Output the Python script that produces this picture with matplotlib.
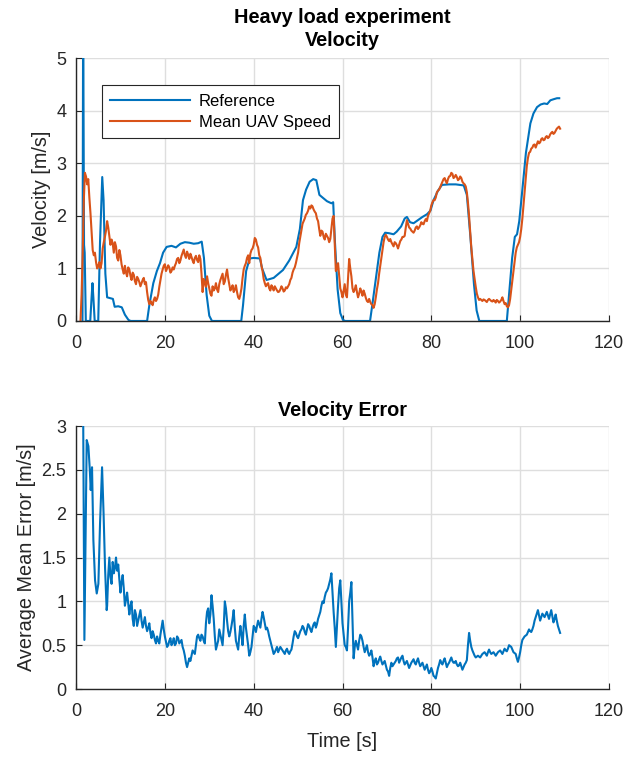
import numpy as np
import matplotlib
matplotlib.use("Agg")
import matplotlib.pyplot as plt

# ---------------------------------------------------------------------------
# data
# reference velocity (smooth curve), irregular samples
ref_t = [1.45, 1.6, 1.8, 1.95, 2.2, 3.2, 3.5, 3.7, 3.9, 4.2,
         5.0, 5.4, 5.9, 6.2, 6.6, 7.0, 8.3, 8.7, 9.5, 10.3,
         11.0, 11.8, 12.3, 16.0, 16.5, 17.4, 18.2, 18.9, 19.6, 20.4,
         21.5, 22.5, 23.5, 24.5, 25.5, 26.5, 27.5, 28.3, 28.8, 29.4,
         30.0, 30.6, 37.2, 37.6, 38.3, 39.1, 40.0, 41.4, 41.9, 42.9,
         44.5, 46.6, 48.0, 49.6, 50.4, 51.1, 51.8, 52.6, 53.4, 54.1,
         54.8, 55.5, 56.5, 57.5, 57.9, 58.3, 58.9, 59.5, 60.1, 60.6,
         66.2, 66.7, 67.5, 68.3, 69.0, 69.6, 70.5, 71.5, 72.2, 73.2,
         74.0, 74.5, 75.2, 76.0, 77.0, 78.0, 79.0, 79.8, 80.5, 81.5,
         82.4, 84.0, 85.5, 87.3, 88.0, 88.8, 89.6, 90.2, 90.8, 97.0,
         97.5, 98.2, 98.8, 99.3, 99.8, 100.5, 101.3, 102.3, 103.0, 103.8,
         104.6, 105.4, 106.1, 106.8, 107.5, 108.3, 108.8]
ref_v = [0.0, 6.0, 1.45, 1.3, 0.0, 0.0, 0.45, 0.72, 0.45, 0.0,
         0.0, 1.5, 2.74, 2.3, 0.9, 0.45, 0.42, 0.27, 0.28, 0.26,
         0.12, 0.02, 0.0, 0.0, 0.3, 0.72, 0.95, 1.1, 1.3, 1.41,
         1.43, 1.4, 1.47, 1.5, 1.49, 1.47, 1.48, 1.51, 1.2, 0.5,
         0.1, 0.0, 0.0, 0.3, 0.95, 1.19, 1.2, 1.19, 1.0, 0.78,
         0.82, 0.97, 1.15, 1.41, 1.75, 2.3, 2.5, 2.65, 2.7, 2.68,
         2.4, 2.35, 2.28, 2.24, 2.26, 1.5, 0.6, 0.15, 0.02, 0.0,
         0.0, 0.3, 0.8, 1.3, 1.6, 1.68, 1.67, 1.65, 1.7, 1.8,
         1.95, 1.98, 1.88, 1.86, 1.92, 1.98, 2.03, 2.1, 2.3, 2.48,
         2.59, 2.6, 2.6, 2.58, 2.4, 1.6, 0.7, 0.2, 0.0, 0.0,
         0.5, 1.2, 1.6, 1.65, 1.9, 2.5, 3.2, 3.76, 3.95, 4.07,
         4.12, 4.14, 4.13, 4.2, 4.22, 4.24, 4.24]

# mean UAV speed, sampled every 0.5 s from t = 1.0 s ...
uav_t0, uav_dt = 1.0, 0.5
uav_v = [0.0, 1.3, 2.82, 2.6, 2.35, 1.7, 1.25, 1.12, 1.05, 1.0,
         1.38, 1.6, 1.9, 1.62, 1.55, 1.3, 1.42, 1.15, 1.25, 0.98,
         1.05, 0.85, 0.98, 0.78, 0.88, 0.7, 0.8, 0.66, 0.78, 0.7,
         0.55, 0.32, 0.35, 0.4, 0.38, 0.5, 0.78, 0.98, 1.08, 1.0,
         1.02, 0.95, 0.98, 1.1, 1.2, 1.15, 1.3, 1.25, 1.32, 1.18,
         1.22, 1.1, 1.24, 1.12, 1.18, 0.55, 0.72, 0.85, 0.62, 0.48,
         0.58, 0.72, 0.55, 0.78, 0.9, 0.75, 0.98, 0.7, 0.62, 0.55,
         0.68, 0.45, 0.5, 0.82, 1.05, 1.2, 1.1, 1.35, 1.45, 1.55,
         1.4, 1.2, 0.95, 0.72, 0.7, 0.62, 0.68, 0.58, 0.62, 0.55,
         0.6, 0.62, 0.58, 0.62, 0.7, 0.82, 0.98, 1.1, 1.3, 1.6,
         1.85, 1.95, 2.05, 2.18, 2.2, 2.12, 2.05, 1.9, 1.62, 1.7,
         1.55, 1.62, 1.5, 1.75, 2.0, 0.95, 1.1, 0.62, 0.45, 0.7,
         0.45, 1.18, 0.85, 0.55, 0.68, 0.45, 0.62, 0.48, 0.52, 0.38,
         0.42, 0.32, 0.25, 0.45, 0.72, 1.05, 1.35, 1.6, 1.6, 1.52,
         1.5, 1.42, 1.48, 1.38, 1.52, 1.6, 1.62, 1.92, 1.78, 1.72,
         1.68, 1.78, 1.75, 1.82, 1.85, 1.9, 1.9, 2.05, 2.2, 2.3,
         2.35, 2.48, 2.55, 2.65, 2.72, 2.62, 2.75, 2.82, 2.72, 2.78,
         2.68, 2.75, 2.65, 2.6, 2.45, 2.0, 1.4, 0.95, 0.65, 0.45,
         0.42, 0.38, 0.4, 0.36, 0.42, 0.38, 0.4, 0.35, 0.38, 0.37,
         0.45, 0.32, 0.28, 0.3, 0.6, 0.95, 1.3, 1.45, 1.6, 1.95,
         2.45, 2.95, 3.2, 3.28, 3.35, 3.3, 3.42, 3.4, 3.48, 3.45,
         3.52, 3.5, 3.58, 3.56, 3.62, 3.68, 3.66]
# ... and the samples in between (t = 1.25, 1.75, ...)
uav_mid = [0.5, 2.3, 2.75, 2.7, 2.05, 1.35, 1.3, 1.0, 1.12, 1.1,
           1.5, 1.72, 1.78, 1.45, 1.48, 1.5, 1.2, 1.35, 1.08, 0.9,
           0.92, 1.02, 0.86, 0.92, 0.76, 0.84, 0.74, 0.72, 0.82, 0.74,
           0.4, 0.38, 0.3, 0.45, 0.42, 0.65, 0.9, 1.05, 0.95, 1.06,
           0.92, 1.02, 1.05, 1.18, 1.1, 1.24, 1.36, 1.2, 1.26, 1.28,
           1.15, 1.2, 1.16, 1.25, 0.9, 0.8, 0.65, 0.72, 0.52, 0.66,
           0.62, 0.6, 0.7, 0.84, 0.7, 0.88, 0.82, 0.58, 0.68, 0.6,
           0.55, 0.42, 0.62, 0.98, 1.1, 1.25, 1.28, 1.38, 1.58, 1.45,
           1.25, 1.05, 0.8, 0.66, 0.72, 0.58, 0.64, 0.66, 0.58, 0.56,
           0.66, 0.56, 0.64, 0.66, 0.78, 0.92, 1.02, 1.2, 1.48, 1.72,
           1.9, 2.02, 2.1, 2.14, 2.18, 2.08, 1.95, 1.75, 1.72, 1.6,
           1.66, 1.58, 1.56, 1.95, 1.5, 1.0, 0.85, 0.55, 0.58, 0.5,
           0.8, 1.0, 0.62, 0.6, 0.55, 0.52, 0.56, 0.58, 0.44, 0.36,
           0.36, 0.3, 0.32, 0.6, 0.9, 1.2, 1.5, 1.64, 1.55, 1.56,
           1.46, 1.5, 1.44, 1.45, 1.55, 1.6, 1.78, 1.85, 1.76, 1.7,
           1.72, 1.8, 1.78, 1.88, 1.84, 1.94, 2.0, 2.1, 2.26, 2.3,
           2.45, 2.5, 2.6, 2.7, 2.66, 2.7, 2.76, 2.8, 2.74, 2.74,
           2.7, 2.72, 2.62, 2.56, 2.25, 1.7, 1.18, 0.8, 0.52, 0.4,
           0.4, 0.41, 0.38, 0.4, 0.4, 0.37, 0.38, 0.4, 0.35, 0.4,
           0.38, 0.34, 0.26, 0.42, 0.78, 1.12, 1.4, 1.5, 1.75, 2.2,
           2.7, 3.1, 3.22, 3.3, 3.36, 3.36, 3.38, 3.46, 3.44, 3.5,
           3.48, 3.55, 3.6, 3.58, 3.66, 3.7]

# velocity error: first seconds at irregular times, then every 0.5 s from 7.0 s
err_head_t = [1.6, 1.7, 1.88, 2.4, 2.78, 3.1, 3.3, 3.6, 3.9, 4.28,
              4.66, 5.03, 5.41, 5.86, 6.2, 6.54, 6.9]
err_head_v = [3.2, 2.2, 0.56, 2.84, 2.77, 2.5, 2.27, 2.53, 1.7, 1.24,
              1.09, 1.2, 1.9, 2.53, 2.0, 1.37, 0.9]
err_t0, err_dt = 7.0, 0.5
err_v = [0.95, 1.5, 1.2, 1.32, 1.5, 1.42, 1.1, 1.3, 0.95, 1.1,
         0.85, 1.0, 0.72, 0.85, 0.78, 0.9, 0.7, 0.82, 0.66, 0.75,
         0.58, 0.62, 0.52, 0.55, 0.62, 0.78, 0.6, 0.48, 0.55, 0.5,
         0.58, 0.52, 0.58, 0.54, 0.48, 0.38, 0.25, 0.35, 0.38, 0.42,
         0.5, 0.62, 0.55, 0.6, 0.52, 0.88, 0.75, 1.07, 0.8, 0.45,
         0.55, 0.62, 0.5, 1.0, 0.78, 0.6, 0.72, 0.9, 0.55, 0.45,
         0.72, 0.5, 0.85, 0.6, 0.38, 0.48, 0.72, 0.65, 0.78, 0.7,
         0.88, 0.75, 0.7, 0.6, 0.5, 0.4, 0.45, 0.42, 0.48, 0.44,
         0.4, 0.46, 0.4, 0.45, 0.6, 0.64, 0.58, 0.66, 0.72, 0.65,
         0.68, 0.72, 0.65, 0.74, 0.7, 0.8, 0.88, 1.0, 1.05, 1.12,
         1.2, 1.32, 0.88, 0.48, 0.95, 1.24, 0.75, 0.5, 0.44, 1.0,
         1.22, 0.35, 0.55, 0.45, 0.62, 0.55, 0.42, 0.5, 0.38, 0.44,
         0.26, 0.35, 0.3, 0.37, 0.28, 0.32, 0.22, 0.15, 0.3, 0.28,
         0.32, 0.36, 0.33, 0.38, 0.28, 0.32, 0.24, 0.3, 0.34, 0.28,
         0.35, 0.26, 0.3, 0.22, 0.28, 0.18, 0.24, 0.15, 0.12, 0.24,
         0.33, 0.28, 0.35, 0.25, 0.3, 0.36, 0.3, 0.32, 0.26, 0.3,
         0.22, 0.28, 0.33, 0.64, 0.48, 0.41, 0.36, 0.38, 0.36, 0.4,
         0.42, 0.38, 0.45, 0.4, 0.42, 0.38, 0.42, 0.44, 0.4, 0.46,
         0.43, 0.5, 0.48, 0.42, 0.4, 0.31, 0.42, 0.56, 0.6, 0.62,
         0.68, 0.65, 0.72, 0.82, 0.9, 0.78, 0.86, 0.82, 0.88, 0.8,
         0.9, 0.76, 0.85, 0.72, 0.64]
# in-between error samples (t = 7.25, 7.75, ...)
err_mid = [1.3, 1.28, 1.45, 1.38, 1.35, 1.25, 1.22, 1.15, 1.02, 0.98,
           0.95, 0.8, 0.9, 0.72, 0.84, 0.78, 0.76, 0.72, 0.7, 0.64,
           0.66, 0.56, 0.6, 0.52, 0.7, 0.68, 0.54, 0.5, 0.58, 0.53,
           0.5, 0.6, 0.52, 0.56, 0.44, 0.3, 0.3, 0.32, 0.44, 0.4,
           0.6, 0.58, 0.62, 0.55, 0.75, 0.92, 0.85, 0.95, 0.6, 0.5,
           0.68, 0.56, 0.7, 0.92, 0.66, 0.65, 0.8, 0.7, 0.5, 0.6,
           0.62, 0.72, 0.7, 0.5, 0.42, 0.6, 0.7, 0.72, 0.74, 0.8,
           0.82, 0.68, 0.66, 0.55, 0.45, 0.42, 0.48, 0.45, 0.46, 0.42,
           0.44, 0.42, 0.43, 0.52, 0.66, 0.6, 0.62, 0.68, 0.7, 0.62,
           0.74, 0.68, 0.7, 0.76, 0.74, 0.84, 0.95, 0.98, 1.1, 1.15,
           1.25, 1.1, 0.7, 0.72, 1.15, 1.0, 0.62, 0.48, 0.7, 1.1,
           0.8, 0.48, 0.5, 0.55, 0.6, 0.48, 0.46, 0.42, 0.4, 0.36,
           0.32, 0.28, 0.34, 0.32, 0.3, 0.27, 0.2, 0.24, 0.26, 0.3,
           0.35, 0.3, 0.36, 0.32, 0.3, 0.28, 0.27, 0.32, 0.3, 0.32,
           0.3, 0.28, 0.26, 0.25, 0.22, 0.2, 0.2, 0.14, 0.18, 0.28,
           0.3, 0.32, 0.3, 0.28, 0.33, 0.32, 0.3, 0.28, 0.27, 0.26,
           0.25, 0.3, 0.5, 0.55, 0.44, 0.38, 0.37, 0.37, 0.38, 0.41,
           0.4, 0.42, 0.42, 0.41, 0.4, 0.4, 0.43, 0.42, 0.43, 0.44,
           0.46, 0.49, 0.45, 0.41, 0.35, 0.36, 0.5, 0.58, 0.61, 0.65,
           0.66, 0.68, 0.78, 0.86, 0.84, 0.82, 0.84, 0.85, 0.84, 0.85,
           0.83, 0.8, 0.78, 0.68]

x_ticks = [0, 20, 40, 60, 80, 100, 120]
vel_ticks = [0, 1, 2, 3, 4, 5]
err_ticks = [0, 0.5, 1, 1.5, 2, 2.5, 3]
err_tick_labels = ["0", "0.5", "1", "1.5", "2", "2.5", "3"]

# ---------------------------------------------------------------------------
BLUE = "#0072BD"
ORANGE = "#D95319"
DARK = "#262626"
TICK_FS = 13
LABEL_FS = 14.3

plt.rcParams["font.family"] = ["Liberation Sans", "DejaVu Sans"]


def interleave(t0, dt, main, mid):
    # merge the on-grid samples with the half-step samples
    t = np.concatenate([t0 + dt * np.arange(len(main)),
                        t0 + dt / 2 + dt * np.arange(len(mid))])
    v = np.concatenate([main, mid])
    order = np.argsort(t)
    return t[order], v[order]


def style_axes(ax):
    ax.grid(True, color="#dedede", lw=1.0)
    ax.set_axisbelow(True)
    for s in ["top", "right"]:
        ax.spines[s].set_visible(False)
    for s in ["left", "bottom"]:
        ax.spines[s].set_color(DARK)
        ax.spines[s].set_linewidth(1.0)
    ax.tick_params(direction="in", length=4, width=0.8, colors=DARK,
                   labelcolor=DARK, labelsize=TICK_FS)
    ax.tick_params(axis="x", pad=10)
    ax.tick_params(axis="y", pad=7)
    ax.set_xlim(0, 120)
    ax.set_xticks(x_ticks)


uav_t, uav_all = interleave(uav_t0, uav_dt, uav_v, uav_mid)
err_tt, err_vv = interleave(err_t0, err_dt, err_v, err_mid)
err_t = np.concatenate([err_head_t, err_tt])
err_all = np.concatenate([err_head_v, err_vv])

fig = plt.figure(figsize=(6.39, 7.57), dpi=100)

# top: velocity
ax1 = fig.add_axes([0.119, 0.576, 0.834, 0.347])
ax1.plot(ref_t, ref_v, color=BLUE, lw=1.5, label="Reference")
ax1.plot(uav_t, uav_all, color=ORANGE, lw=1.5, label="Mean UAV Speed")
style_axes(ax1)
ax1.set_ylim(0, 5)
ax1.set_yticks(vel_ticks)
ax1.set_ylabel("Velocity [m/s]", color=DARK, fontsize=LABEL_FS, labelpad=4)
ax1.set_title("Heavy load experiment\nVelocity", fontweight="bold",
              fontsize=LABEL_FS, color="black", pad=8.5, linespacing=1.3)
leg = ax1.legend(loc="upper left", bbox_to_anchor=(0.0488, 0.897),
                 borderaxespad=0, handlelength=4.8, fontsize=12,
                 fancybox=False, framealpha=1, edgecolor=DARK,
                 borderpad=0.5, labelspacing=0.38, handletextpad=0.5)
leg.get_frame().set_linewidth(0.8)

# bottom: error
ax2 = fig.add_axes([0.119, 0.0898, 0.834, 0.3474])
ax2.plot(err_t, err_all, color=BLUE, lw=1.5)
style_axes(ax2)
ax2.set_ylim(0, 3)
ax2.set_yticks(err_ticks)
ax2.set_yticklabels(err_tick_labels)
ax2.set_ylabel("Average Mean Error [m/s]", color=DARK, fontsize=LABEL_FS,
               labelpad=4)
ax2.set_xlabel("Time [s]", color=DARK, fontsize=LABEL_FS, labelpad=9)
ax2.set_title("Velocity Error", fontweight="bold", fontsize=LABEL_FS,
              color="black", pad=7)

fig.savefig("out.png", dpi=100)
